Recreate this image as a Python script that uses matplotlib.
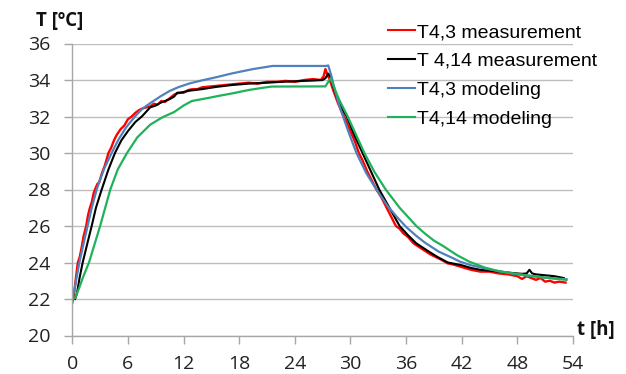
import matplotlib
matplotlib.use("Agg")
import matplotlib.pyplot as plt

# ---- data ----
t_red = [0.0, 0.2, 0.4, 0.6, 0.8, 1.0, 1.2, 1.5, 1.7, 1.9, 2.1, 2.3, 2.45, 2.7, 2.9, 3.2, 3.5, 3.9, 4.2,
         4.5, 4.8, 5.2, 5.6, 6.0, 6.4, 6.8, 7.2, 7.6, 8.0, 8.4, 8.8, 9.2, 9.6, 10.0, 10.5, 11.0, 11.5,
         12.0, 12.5, 13.0, 13.5, 14, 15, 16, 17, 18, 19, 20, 21, 22, 23, 24, 25, 26, 26.8, 27.1, 27.3,
         27.5, 27.7, 28.1, 28.6, 29.1, 29.5, 30.0, 30.5, 30.9, 31.3, 31.8, 32.3, 32.8, 33.3, 33.8,
         34.4, 34.9, 35.3, 35.7, 36.2, 36.8, 37.4, 38.0, 38.6, 39.2, 39.8, 40.5, 41, 42, 43, 44, 45,
         46, 47, 48, 48.5, 49, 49.5, 50, 50.5, 51, 51.5, 52, 52.5, 53.2]
T_red = [21.8, 22.3, 23.2, 24.0, 24.3, 24.8, 25.4, 26.0, 26.6, 27.0, 27.3, 27.8, 28.0, 28.3, 28.4,
         28.9, 29.3, 30.0, 30.3, 30.7, 31.0, 31.3, 31.5, 31.85, 32.0, 32.2, 32.35, 32.45, 32.5, 32.55,
         32.7, 32.65, 32.85, 32.8, 33.0, 33.2, 33.3, 33.3, 33.45, 33.5, 33.5, 33.6, 33.65, 33.7, 33.75,
         33.8, 33.85, 33.8, 33.9, 33.9, 33.95, 33.9, 34.0, 34.05, 34.0, 34.2, 34.6, 34.3, 34.1, 33.5,
         32.8, 32.2, 31.8, 31.2, 30.6, 30.0, 29.6, 29.0, 28.5, 28.0, 27.6, 27.1, 26.5, 26.0, 25.85,
         25.6, 25.4, 25.05, 24.85, 24.65, 24.45, 24.3, 24.15, 23.95, 23.9, 23.75, 23.6, 23.5, 23.5,
         23.4, 23.35, 23.25, 23.1, 23.25, 23.15, 23.05, 23.15, 22.95, 23.0, 22.9, 22.95, 22.9]

t_black = [0.3, 0.5, 0.8, 1.12, 1.6, 2.09, 2.55, 3.17, 3.9, 4.6, 5.3, 6.0, 6.8, 7.5, 8.4, 9.0, 9.5, 10.0,
           10.5, 11.0, 11.3, 11.6, 12.7, 14, 15.5, 17.3, 19, 21, 22.6, 24, 26, 27, 27.3, 27.6, 27.8,
           28.1, 28.5, 29.0, 29.6, 30.4, 31.3, 32.2, 33.1, 34.2, 35.3, 36.2, 37.1, 38.0, 38.6, 39.4,
           40.5, 41, 42, 43, 44, 45, 46, 47, 48, 48.5, 49, 49.3, 49.6, 50, 51, 52, 52.5, 53]
T_black = [22.0, 22.3, 23.2, 24.0, 25.0, 26.0, 27.0, 28.0, 29.1, 30.0, 30.7, 31.2, 31.7, 32.0, 32.5,
           32.6, 32.75, 32.85, 32.95, 33.1, 33.3, 33.3, 33.42, 33.5, 33.62, 33.73, 33.8, 33.85, 33.9,
           33.93, 33.97, 34.0, 34.1, 34.35, 34.2, 33.7, 33.1, 32.5, 32.0, 31.0, 30.0, 29.0, 28.0, 27.0,
           26.0, 25.5, 25.05, 24.75, 24.55, 24.3, 24.0, 23.95, 23.85, 23.7, 23.6, 23.55, 23.5, 23.45,
           23.4, 23.38, 23.4, 23.6, 23.4, 23.35, 23.3, 23.25, 23.2, 23.15]

t_blue = [0, 0.3, 0.76, 1.2, 1.65, 2.1, 2.63, 3.4, 4.24, 5.0, 5.8, 6.76, 7.5, 8.4, 9.5, 10.5, 11.5, 12.7,
          14, 15.5, 17.3, 19.5, 21.6, 27.4, 27.6, 27.9, 28.3, 28.7, 29.2, 29.9, 30.65, 31.7, 32.8,
          34.0, 35.0, 36.0, 37.0, 38.0, 39.5, 41.0, 41.8, 43, 45, 47, 49, 51, 53.3]
T_blue = [22.0, 22.7, 24.0, 25.0, 26.0, 27.0, 28.0, 29.1, 30.0, 30.75, 31.4, 32.0, 32.4, 32.73, 33.1,
          33.4, 33.62, 33.82, 33.98, 34.15, 34.37, 34.6, 34.77, 34.77, 34.8, 34.3, 33.5, 32.75, 32.0,
          31.0, 30.0, 28.9, 28.0, 27.1, 26.5, 25.95, 25.5, 25.1, 24.6, 24.25, 24.05, 23.85, 23.62,
          23.44, 23.28, 23.17, 23.08]

t_green = [0, 0.3, 0.7, 1.2, 1.8, 2.4, 3.0, 3.55, 4.1, 4.9, 5.9, 7.0, 8.4, 9.7, 11.0, 12.0, 12.9, 14.5,
           16, 17.3, 19, 20.5, 21.5, 27.3, 27.85, 28.3, 28.8, 29.7, 30.6, 31.5, 32.6, 33.8, 35.3, 36.2,
           37.1, 38.0, 39.0, 40, 41.5, 42.8, 44.5, 46, 47.5, 49, 50.5, 52, 53.3]
T_green = [22.0, 22.05, 22.55, 23.25, 24.0, 25.0, 26.0, 27.0, 28.0, 29.1, 30.0, 30.85, 31.55, 31.95,
           32.25, 32.6, 32.85, 33.0, 33.15, 33.27, 33.45, 33.57, 33.64, 33.65, 34.1, 33.5, 32.9, 32.0,
           31.0, 30.0, 28.95, 28.0, 27.0, 26.5, 26.0, 25.6, 25.2, 24.9, 24.4, 24.05, 23.72, 23.52,
           23.4, 23.3, 23.2, 23.12, 23.05]

labels = ["T4,3 measurement", "T 4,14 measurement", "T4,3 modeling", "T4,14 modeling"]
colors = ["#FF0000", "#000000", "#4F81BD", "#1FB25A"]
x_ticks = [0, 6, 12, 18, 24, 30, 36, 42, 48, 54]
y_ticks = [20, 22, 24, 26, 28, 30, 32, 34, 36]

# ---- figure ----
fig = plt.figure(figsize=(6.26, 3.74), dpi=100)
ax = fig.add_axes([72.3 / 626, 1 - 335.5 / 374, (573 - 72.3) / 626, (335.5 - 43.5) / 374])

series = [(t_red, T_red), (t_black, T_black), (t_blue, T_blue), (t_green, T_green)]
lws = [1.7, 1.5, 1.6, 1.6]
for (t, T), c, lab, lw in zip(series, colors, labels, lws):
    ax.plot(t, T, color=c, lw=lw, label=lab, solid_joinstyle="round")

ax.set_xlim(0, 54)
ax.set_ylim(20, 36)
ax.set_xticks(x_ticks)
ax.set_yticks(y_ticks)
ax.grid(axis="y", color="#BEBEBE", lw=1.0)
ax.set_axisbelow(True)
for s in ["top", "right"]:
    ax.spines[s].set_visible(False)
for s in ["left", "bottom"]:
    ax.spines[s].set_color("#A6A6A6")
    ax.spines[s].set_linewidth(1.0)
ax.tick_params(axis="both", which="major", color="#A6A6A6", length=6, width=1.0,
               labelsize=14, labelcolor="#222222")
ax.tick_params(axis="y", pad=10)
ax.tick_params(axis="x", pad=8)
for lbl in ax.get_xticklabels() + ax.get_yticklabels():
    lbl.set_family("Open Sans")

fig.text(36 / 626, 1 - 21 / 374, "T [ºC]", fontsize=13.5, fontweight="bold",
         family="Open Sans", va="center", ha="left", color="#111111")
fig.text(577 / 626, 1 - 330 / 374, "t [h]", fontsize=13.5, fontweight="bold",
         family="Open Sans", va="center", ha="left", color="#111111")

leg = fig.legend(loc="upper left", bbox_to_anchor=(388 / 626, 1 - 23.5 / 374),
                 frameon=False, borderpad=0, borderaxespad=0, handlelength=1.4,
                 handletextpad=0.1, labelspacing=0.58,
                 prop={"family": "Liberation Sans", "size": 14})
for h in leg.get_lines():
    h.set_linewidth(1.5)

fig.savefig("out.png", dpi=100)
